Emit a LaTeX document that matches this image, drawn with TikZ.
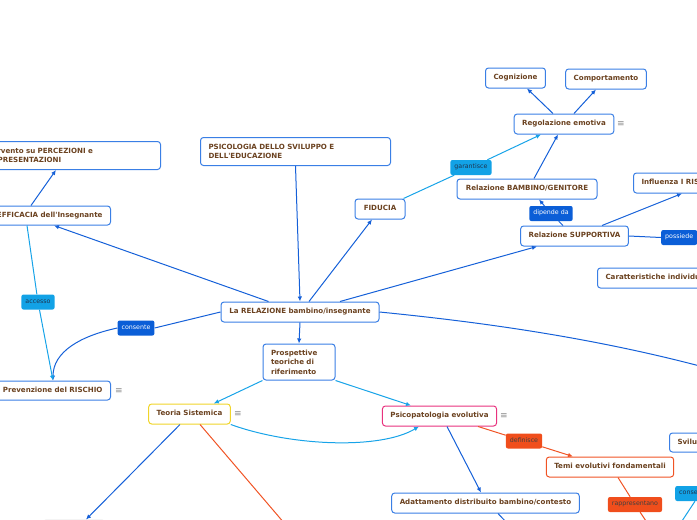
\documentclass[tikz,border=0pt]{standalone}
\usepackage{fontspec}
\setmainfont{DejaVu Sans}
\usetikzlibrary{arrows.meta}
\definecolor{boxblue}{HTML}{3A7FE5}
\definecolor{txtbrown}{HTML}{6B4220}
\definecolor{lnblue}{HTML}{1560D8}
\definecolor{lncyan}{HTML}{17A3E8}
\definecolor{lnorange}{HTML}{F05425}
\definecolor{lblblue}{HTML}{0B5ED7}
\definecolor{lblcyan}{HTML}{12A2E6}
\definecolor{lblorange}{HTML}{F04E1C}
\definecolor{ysys}{HTML}{F0D52A}
\definecolor{pinkb}{HTML}{E8327E}
\definecolor{iconcol}{HTML}{8A8A8A}
\definecolor{lbltxt}{HTML}{1E3550}
\tikzset{
 topic/.style={draw=boxblue, line width=1pt, rounded corners=3pt, fill=white, text=txtbrown,
   font=\fontsize{7.1}{9.5}\selectfont\bfseries, inner xsep=8pt, inner ysep=0pt, minimum height=20pt},
 oneline/.style={text height=4.6pt, text depth=1.4pt},
 lbl/.style={rounded corners=2pt, font=\fontsize{6.3}{8}\selectfont, inner xsep=4pt, inner ysep=0pt, minimum height=15pt, text height=4.2pt, text depth=1.3pt},
 lblB/.style={lbl, fill=lblblue, text=white},
 lblC/.style={lbl, fill=lblcyan, text=lbltxt},
 lblO/.style={lbl, fill=lblorange, text=black!75},
 conn/.style={line width=1pt},
 cb/.style={conn, draw=lnblue},
 cc/.style={conn, draw=lncyan},
 co/.style={conn, draw=lnorange},
 tip/.style={-{Latex[length=5pt,width=4.5pt]}},
 menu/.style={text=iconcol, font=\fontsize{9}{9}\selectfont},
}
\begin{document}
\begin{tikzpicture}[x=1pt,y=-1pt]
\useasboundingbox (0,0) rectangle (697,520);
\clip (0,0) rectangle (697,520);
% topics
\node[topic, anchor=north west, text width=171pt, align=left, minimum height=28pt] (percez) at (-27,141) {Intervento su PERCEZIONI e\\RAPPRESENTAZIONI};
\node[topic, oneline, anchor=east, minimum height=19pt] (effic) at (111,215.5) {EFFICACIA dell\textquotesingle Insegnante};
\node[topic, anchor=north west, text width=174pt, align=left, minimum height=28pt] (psico) at (200,137) {PSICOLOGIA DELLO SVILUPPO E\\DELL\textquotesingle EDUCAZIONE};
\node[topic, oneline, minimum width=50pt] (fiducia) at (380,209) {FIDUCIA};
\node[topic, oneline, minimum width=59pt] (cogn) at (515.5,78) {Cognizione};
\node[topic, oneline, minimum width=80pt] (comport) at (606,79) {Comportamento};
\node[topic, oneline, minimum width=98pt] (regol) at (564,124) {Regolazione emotiva};
\node[topic, oneline, minimum width=140pt] (relbg) at (527,189) {Relazione BAMBINO/GENITORE};
\node[topic, oneline, minimum width=107pt] (relsup) at (574.5,236) {Relazione SUPPORTIVA};
\node[topic, oneline, anchor=west] (influ) at (633,183) {Influenza I RISCHI};
\node[topic, oneline, anchor=west] (caratt) at (597,278) {Caratteristiche individuali};
\node[topic, oneline, minimum width=158pt] (larel) at (300,312) {La RELAZIONE bambino/insegnante};
\node[topic, text width=56pt, align=left, minimum height=36pt] (prosp) at (299,362) {Prospettive\\teoriche di\\riferimento};
\node[topic, oneline, anchor=east, minimum height=19pt] (prev) at (111,390.5) {Prevenzione del RISCHIO};
\node[topic, oneline, draw=ysys, minimum width=81pt] (teoria) at (189.5,414) {Teoria Sistemica};
\node[topic, oneline, draw=pinkb, minimum width=111pt] (psicop) at (439.5,416) {Psicopatologia evolutiva};
\node[topic, oneline, draw=lnorange, minimum width=126pt] (temi) at (610,467) {Temi evolutivi fondamentali};
\node[topic, oneline, anchor=west, minimum height=19pt] (svil) at (669,442.5) {Sviluppo};
\node[topic, oneline, minimum width=185pt] (adatt) at (485.5,503) {Adattamento distribuito bambino/contesto};
\node[topic, draw=black!12, anchor=north, minimum width=62pt, minimum height=20pt] (botl) at (74,519.5) {};
\coordinate (offR) at (722,372);
\coordinate (offO) at (285,524);
\coordinate (offA) at (508,524);
\coordinate (offT) at (648,524);
\coordinate (offC) at (680,524);
% menu icons
\node[menu] (m1) at (621,124) {≡};
\node[menu] (m2) at (119,391) {≡};
\node[menu] (m3) at (238,414) {≡};
\node[menu] (m4) at (504,416) {≡};
% labels
\node[lblC] (garant) at (471,167.5) {garantisce};
\node[lblB] (dipende) at (551,213.5) {dipende da};
\node[lblB, anchor=west] (possiede) at (661,237.5) {possiede};
\node[lblC] (accesso) at (38,302) {accesso};
\node[lblB] (consente) at (136,328) {consente};
\node[lblO] (definisce) at (524,441) {definisce};
\node[lblO] (rappres) at (635,504.5) {rappresentano};
\node[lblC, anchor=west] (conse) at (675,493.5) {consente};
% connectors
\draw[cb,tip] ([xshift=-80pt]effic.north east) -- ([xshift=-105pt]percez.south east);
\draw[cb,tip] ([xshift=48pt]larel.north west) -- ([xshift=-57pt]effic.south east);
\draw[cb,tip] (psico.south) -- (larel.north);
\draw[cb,tip] ([xshift=9pt]larel.north) -- ([xshift=-8pt]fiducia.south);
\draw[cc] ([xshift=-2pt]fiducia.north east) -- (garant);
\draw[cc,tip] (garant) -- ([xshift=-23pt]regol.south);
\draw[cb,tip] ([xshift=-11pt]regol.north) -- ([xshift=11.5pt]cogn.south);
\draw[cb,tip] ([xshift=10pt]regol.north) -- ([xshift=-10pt]comport.south);
\draw[cb,tip] ([xshift=7pt]relbg.north) -- ([xshift=-6pt]regol.south);
\draw[cb] ([xshift=-11.5pt]relsup.north) -- (dipende);
\draw[cb,tip] (dipende) -- ([xshift=12pt]relbg.south);
\draw[cb,tip] ([xshift=40pt]larel.north) -- ([xshift=-37.5pt]relsup.south);
\draw[cb,tip] ([xshift=27.5pt]relsup.north) -- ([xshift=49pt]influ.south west);
\draw[cb] (relsup.east) -- (possiede.west);
\draw[cb,tip] (possiede.east) .. controls (720,240) and (712,255) .. ([xshift=100pt]caratt.north west);
\draw[cb] (larel.east) .. controls (480,322) and (600,338) .. (offR);
\draw[cb] (larel.west) -- (consente.east);
\draw[cb,tip] (consente.west) .. controls (80,336) and (53,352) .. ([xshift=-58pt]prev.north east);
\draw[cc] ([xshift=-84pt]effic.south east) -- (accesso);
\draw[cc,tip] (accesso) -- ([xshift=-58pt]prev.north east);
\draw[cb,tip] (larel.south) -- (prosp.north);
\draw[cc,tip] (prosp.south west) -- ([xshift=-17pt]teoria.north east);
\draw[cc,tip] (prosp.south east) -- ([xshift=29pt]psicop.north west);
\draw[cc,tip] (teoria.south east) .. controls (290,446) and (380,450) .. ([xshift=37pt]psicop.south west);
\draw[cb,tip] ([xshift=-9.5pt]teoria.south) -- ([xshift=12pt]botl.north);
\draw[co] ([xshift=10.5pt]teoria.south) -- (offO);
\draw[cb,tip] ([xshift=7.5pt]psicop.south) -- ([xshift=-4.5pt]adatt.north);
\draw[cb] ([xshift=12.5pt]adatt.south) -- (offA);
\draw[co] ([xshift=-19pt]psicop.south east) -- (definisce);
\draw[co,tip] (definisce) -- ([xshift=-37pt]temi.north);
\draw[co] ([xshift=8pt]temi.south) -- (rappres);
\draw[co] (rappres) -- (offT);
\draw[cc] ([xshift=20pt]conse.south west) -- (offC);
\end{tikzpicture}
\end{document}
